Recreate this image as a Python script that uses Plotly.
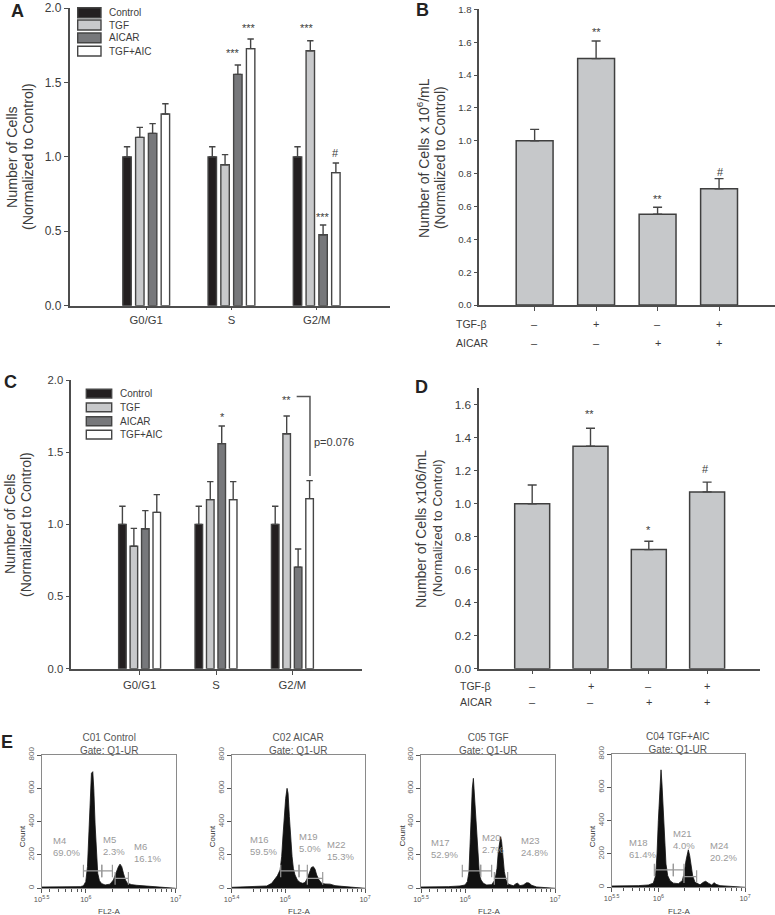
import plotly.graph_objects as go

W, H = 775, 915
FONT = "Liberation Sans, Arial, sans-serif"
DARK = "#3c3c3c"
AXIS = "#4d4d4d"

# ---------- data: panels A and C ----------
phases = ["G0/G1", "S", "G2/M"]
phase_pos = [0, 1, 2]
treatments = ["Control", "TGF", "AICAR", "TGF+AIC"]
treatment_colors = ["#231f20", "#c8c9cb", "#77787b", "#ffffff"]

a_control = [1.0, 1.0, 1.0]
a_tgf = [1.131, 0.947, 1.713]
a_aicar = [1.158, 1.554, 0.477]
a_both = [1.288, 1.727, 0.894]
a_control_err = [0.068, 0.068, 0.068]
a_tgf_err = [0.067, 0.068, 0.067]
a_aicar_err = [0.065, 0.063, 0.065]
a_both_err = [0.069, 0.065, 0.065]

c_control = [1.0, 1.0, 1.0]
c_tgf = [0.848, 1.171, 1.628]
c_aicar = [0.970, 1.559, 0.704]
c_both = [1.083, 1.171, 1.178]
c_control_err = [0.125, 0.125, 0.125]
c_tgf_err = [0.124, 0.125, 0.123]
c_aicar_err = [0.125, 0.122, 0.125]
c_both_err = [0.123, 0.125, 0.125]

# ---------- data: panels B and D ----------
conditions = [0, 1, 2, 3]
tgf_row = ["–", "+", "–", "+"]
aicar_row = ["–", "–", "+", "+"]

b_values = [1.0, 1.50, 0.552, 0.708]
b_err = [0.069, 0.107, 0.043, 0.061]
d_values = [1.0, 1.349, 0.722, 1.072]
d_err = [0.114, 0.109, 0.051, 0.059]

# ---------- data: panel E histograms (log10 FL2-A, count) ----------
e1_x = [5.51, 5.6, 5.79, 5.94, 5.974, 6.0, 6.019, 6.033, 6.048, 6.063, 6.078, 6.089, 6.104, 6.119, 6.133, 6.152,
        6.178, 6.215, 6.27, 6.307, 6.337, 6.363, 6.381, 6.4, 6.419, 6.441, 6.463, 6.511, 6.567, 6.641, 6.715,
        6.789, 6.863, 6.937, 7.0]
e1_y = [8, 8, 8, 10, 15, 40, 130, 300, 560, 690, 700, 600, 380, 200, 90, 45,
        28, 20, 25, 50, 100, 130, 145, 130, 90, 50, 30, 22, 18, 15, 12,
        8, 3, 1, 0]
e2_x = [5.333, 5.437, 5.563, 5.688, 5.771, 5.833, 5.875, 5.904, 5.938, 5.958, 5.975, 5.992, 6.008, 6.025, 6.038,
        6.054, 6.071, 6.088, 6.104, 6.125, 6.154, 6.188, 6.221, 6.25, 6.279, 6.304, 6.329, 6.354, 6.375, 6.396,
        6.425, 6.458, 6.5, 6.563, 6.625, 6.708, 6.813, 6.896, 7.0]
e2_y = [6, 8, 8, 10, 14, 30, 60, 75, 110, 190, 320, 450, 540, 600, 570,
        430, 300, 190, 120, 80, 50, 35, 30, 35, 60, 95, 125, 130, 115, 80,
        50, 30, 26, 25, 16, 12, 8, 4, 0]
e3_x = [5.511, 5.667, 5.815, 5.944, 6.0, 6.026, 6.044, 6.059, 6.07, 6.081, 6.093, 6.104, 6.115, 6.13, 6.144, 6.159,
        6.178, 6.204, 6.241, 6.296, 6.333, 6.356, 6.37, 6.385, 6.396, 6.407, 6.422, 6.437, 6.456, 6.481, 6.537,
        6.567, 6.585, 6.611, 6.648, 6.685, 6.711, 6.741, 6.796, 6.87, 6.926, 7.0]
e3_y = [8, 8, 10, 14, 20, 40, 100, 300, 480, 600, 660, 560, 430, 300, 170, 90,
        50, 30, 20, 22, 50, 120, 220, 290, 310, 280, 190, 100, 50, 25, 15,
        28, 30, 16, 20, 34, 32, 18, 8, 4, 2, 0]
e4_x = [5.462, 5.615, 5.769, 5.885, 5.942, 5.969, 5.985, 6.0, 6.015, 6.031, 6.042, 6.058, 6.073, 6.088, 6.108, 6.135,
        6.173, 6.231, 6.277, 6.3, 6.319, 6.335, 6.346, 6.362, 6.377, 6.396, 6.423, 6.481, 6.519, 6.546, 6.577,
        6.615, 6.646, 6.665, 6.712, 6.808, 6.923, 7.0]
e4_y = [8, 8, 10, 14, 25, 70, 200, 400, 600, 705, 620, 420, 250, 140, 70, 40,
        25, 22, 40, 90, 160, 210, 225, 190, 130, 70, 30, 15, 30, 36, 25,
        14, 28, 18, 10, 6, 2, 0]

e_titles = ["C01 Control", "C02 AICAR", "C05 TGF", "C04 TGF+AIC"]
e_left_labels = ["10<sup>5.5</sup>", "10<sup>5.4</sup>", "10<sup>5.5</sup>", "10<sup>5.5</sup>"]
e_ranges = [[5.51, 7.0], [5.333, 7.0], [5.511, 7.0], [5.462, 7.0]]
# gates: (start, end, level) on the log10 / count scale
e1_gates = [(5.974, 6.178, 104), (6.178, 6.296, 104), (6.326, 6.474, 60)]
e2_gates = [(5.946, 6.175, 104), (6.175, 6.279, 104), (6.279, 6.471, 60)]
e3_gates = [(5.97, 6.174, 104), (6.174, 6.296, 104), (6.326, 6.474, 60)]
e4_gates = [(5.954, 6.173, 104), (6.173, 6.296, 104), (6.296, 6.442, 64)]
e_marker_text = [
    [("M4", "69.0%"), ("M5", "2.3%"), ("M6", "16.1%")],
    [("M16", "59.5%"), ("M19", "5.0%"), ("M22", "15.3%")],
    [("M17", "52.9%"), ("M20", "2.7%"), ("M23", "24.8%")],
    [("M18", "61.4%"), ("M21", "4.0%"), ("M24", "20.2%")],
]
e_marker_pos = [
    [(50.7, 846.7), (100.7, 845.5), (131.7, 852.8)],
    [(248.3, 845.8), (296.7, 842.7), (325, 850)],
    [(429.3, 848), (480, 843.3), (519, 846.7)],
    [(627, 848.8), (671, 839.8), (707.7, 851)],
]

# p-value bracket in C
bracket_x = [2.056, 2.23, 2.23]
bracket_y = [1.885, 1.885, 1.335]


def px(x):
    return x / W


def py(y):
    return 1 - y / H


fig = go.Figure()
annotations = []
shapes = []


def note(text, x, y, size=11, color=DARK, xanchor="center", yanchor="middle", angle=0, bold=False):
    annotations.append(dict(
        text=f"<b>{text}</b>" if bold else text, x=px(x), y=py(y), xref="paper", yref="paper",
        showarrow=False, xanchor=xanchor, yanchor=yanchor, textangle=angle, align="center" if xanchor == "center" else "left",
        font=dict(family=FONT, size=size, color=color)))


def line_axis(domain, **kw):
    base = dict(domain=domain, automargin=False, showgrid=False, zeroline=False, showline=True, linecolor=AXIS, linewidth=1.5,
                ticks="outside", tickcolor=AXIS, tickwidth=1.3, ticklen=4,
                tickfont=dict(family=FONT, color=DARK, size=11))
    base.update(kw)
    return base


def grouped(series, errors, xa, ya, cap):
    for name, vals, errs, col in zip(treatments, series, errors, treatment_colors):
        fig.add_trace(go.Bar(
            x=phase_pos, y=vals, name=name, xaxis=xa, yaxis=ya, showlegend=False,
            marker=dict(color=col, line=dict(color="#454545", width=1.4)),
            error_y=dict(type="data", symmetric=False, array=errs, arrayminus=[0, 0, 0],
                         color="#454545", thickness=1.4, width=cap)))


def single(vals, errs, xa, ya, cap):
    fig.add_trace(go.Bar(
        x=conditions, y=vals, width=0.6, xaxis=xa, yaxis=ya, showlegend=False,
        marker=dict(color="#c6c8ca", line=dict(color="#3f3f3f", width=1.5)),
        error_y=dict(type="data", symmetric=False, array=errs, arrayminus=[0, 0, 0],
                     color="#454545", thickness=1.4, width=cap)))


grouped([a_control, a_tgf, a_aicar, a_both], [a_control_err, a_tgf_err, a_aicar_err, a_both_err], "x", "y", 3.2)
single(b_values, b_err, "x2", "y2", 4.5)
grouped([c_control, c_tgf, c_aicar, c_both], [c_control_err, c_tgf_err, c_aicar_err, c_both_err], "x3", "y3", 3.2)
single(d_values, d_err, "x4", "y4", 4.5)

fig.add_trace(go.Scatter(x=bracket_x, y=bracket_y, xaxis="x3", yaxis="y3", mode="lines", showlegend=False,
                         line=dict(color="#555555", width=1.5)))

layout_axes = dict(
    xaxis=line_axis([px(69.5), px(390)], anchor="y", range=[-0.90, 2.86], ticklen=3,
                    tickvals=phase_pos, ticktext=phases, tickfont=dict(family=FONT, color=DARK, size=11.3)),
    yaxis=line_axis([py(305.7), py(8)], anchor="x", range=[0, 2], dtick=0.5, tickformat=".1f",
                    tickfont=dict(family=FONT, color=DARK, size=12)),
    xaxis2=line_axis([px(479.3), px(775)], anchor="y2", range=[-0.9, 3.91], tickvals=conditions,
                     showticklabels=False),
    yaxis2=line_axis([py(305), py(9.3)], anchor="x2", range=[0, 1.8], dtick=0.2, tickformat=".1f",
                     tickfont=dict(family=FONT, color=DARK, size=9.6)),
    xaxis3=line_axis([px(71.3), px(361.7)], anchor="y3", range=[-0.894, 2.907], ticklen=5,
                     tickvals=phase_pos, ticktext=phases, tickfont=dict(family=FONT, color=DARK, size=11.3)),
    yaxis3=line_axis([py(668.7), py(380)], anchor="x3", range=[0, 2], dtick=0.5, tickformat=".1f",
                     tickfont=dict(family=FONT, color=DARK, size=11.3)),
    xaxis4=line_axis([px(479.3), px(760)], anchor="y4", range=[-0.907, 3.907], tickvals=conditions,
                     showticklabels=False),
    yaxis4=line_axis([py(668.7), py(388.3)], anchor="x4", range=[0, 1.7], tick0=0, dtick=0.2, tickformat=".1f",
                     tickfont=dict(family=FONT, color=DARK, size=11.8)),
)

# legends of A and C
legend_a = [(7.7, 17.7), (20, 30), (33, 42.7), (46.3, 56)]
legend_c = [(389.3, 398), (403, 411.7), (416.7, 425.7), (430.3, 439)]
for rows, x0, x1, tx in [(legend_a, 77.7, 101, 106.7), (legend_c, 86.3, 111.7, 117.7)]:
    for (y0, y1), name, col in zip(rows, treatments, treatment_colors):
        shapes.append(dict(type="rect", xref="paper", yref="paper", x0=px(x0), x1=px(x1), y0=py(y0), y1=py(y1),
                           fillcolor=col, line=dict(color="#454545", width=1.4)))
        note(name, tx, (y0 + y1) / 2, size=10, xanchor="left")

# axis titles
note("Number of Cells", 12, 157, 14.2, angle=-90)
note("(Normalized to Control)", 28, 157, 14.2, angle=-90)
note("Number of Cells x 10<sup>6</sup>/mL", 423, 158, 14, angle=-90)
note("(Normalized to Control)", 440, 158, 13.8, angle=-90)
note("Number of Cells", 10, 524, 14, angle=-90)
note("(Normalized to Control)", 26, 525, 14, angle=-90)
note("Number of Cells x106/mL", 421, 529, 14, angle=-90)
note("(Normalized to Control)", 436.7, 528, 13.3, angle=-90)

# panel letters
for t, x, y in [("A", 17.5, 11), ("B", 422.7, 10), ("C", 10.7, 381.7), ("D", 421, 387), ("E", 6.7, 741.7)]:
    note(t, x, y, 18, "#222222", bold=True)

# significance marks
for t, x, y in [("***", 249, 28), ("***", 233.3, 52.7), ("***", 307.3, 28), ("***", 322.7, 217), ("#", 335.7, 152.7),
                ("**", 596.3, 32), ("**", 657.3, 198.7), ("#", 720, 171.7),
                ("*", 222, 417), ("**", 286.7, 400.3),
                ("**", 589.7, 413.7), ("*", 648.3, 530.3), ("#", 705, 469.3)]:
    note(t, x, y, 11)
note("p=0.076", 312.3, 441.7, 11, xanchor="left")

# +/- rows of B and D
for xa, lab_x, y1, y2, size in [("x2", 454, 324, 343, 10.5), ("x4", 458, 686, 702.3, 10.5)]:
    note("TGF-β", lab_x, y1, size, xanchor="left")
    note("AICAR", lab_x, y2, size, xanchor="left")
    for c, a, b in zip(conditions, tgf_row, aicar_row):
        for txt, yy in [(a, y1), (b, y2)]:
            annotations.append(dict(text=txt, x=c, xref=xa, y=py(yy), yref="paper", showarrow=False,
                                    xanchor="center", yanchor="middle",
                                    font=dict(family=FONT, size=11, color=DARK)))

# ---------- panel E ----------
frames = [(41.7, 175.7, 755, 888.3), (231.7, 365, 755, 888.3), (421, 555, 755, 888.3), (611.7, 745, 754, 887.3)]
title_pos = [(109, 743.7), (298.3, 743.7), (488, 743.7), (677.7, 742.3)]
hists = [(e1_x, e1_y, e1_gates), (e2_x, e2_y, e2_gates), (e3_x, e3_y, e3_gates), (e4_x, e4_y, e4_gates)]
GREY = "#8a8a8a"
minor_vals = [m * 10 ** 5 for m in (4, 5, 6, 7, 8, 9)] + [m * 10 ** 6 for m in (2, 3, 4, 5, 6, 7, 8, 9)]

for i, ((hx, hy, gates), fr, tp) in enumerate(zip(hists, frames, title_pos)):
    n = 5 + i
    xa, ya = f"x{n}", f"y{n}"
    fig.add_trace(go.Scatter(x=[10 ** v for v in hx], y=hy, xaxis=xa, yaxis=ya, mode="lines", showlegend=False,
                             fill="tozeroy", fillcolor="#111111", line=dict(color="#111111", width=0.8)))
    gx, gy = [], []
    for g0, g1, lv in gates:
        gx += [10 ** g0, 10 ** g0, 10 ** g0, 10 ** g1, 10 ** g1, 10 ** g1, None]
        gy += [lv - 38, lv + 38, lv, lv, lv - 38, lv + 38, None]
    fig.add_trace(go.Scatter(x=gx, y=gy, xaxis=xa, yaxis=ya, mode="lines", showlegend=False,
                             line=dict(color="#9a9a9a", width=1.2)))
    x0, x1, y0, y1 = fr
    r = e_ranges[i]
    layout_axes[f"xaxis{n}"] = dict(
        domain=[px(x0), px(x1)], anchor=ya, automargin=False, type="log", range=r, showgrid=False, zeroline=False, mirror=True,
        showline=True, linecolor=GREY, linewidth=1, ticks="outside", tickcolor="#555555", ticklen=4,
        tickmode="array", tickvals=[10 ** r[0], 10 ** 6, 10 ** 7], ticktext=[e_left_labels[i], "10<sup>6</sup>", "10<sup>7</sup>"],
        tickfont=dict(family=FONT, size=7.5, color="#555555"),
        minor=dict(ticks="outside", ticklen=3, tickcolor="#555555", tickmode="array", tickvals=minor_vals))
    layout_axes[f"yaxis{n}"] = dict(
        domain=[py(y1), py(y0)], anchor=xa, automargin=False, range=[0, 800], tickvals=[0, 200, 400, 600, 800], showgrid=False,
        zeroline=False, mirror=True, showline=True, linecolor=GREY, linewidth=1, ticks="outside",
        tickcolor="#555555", ticklen=4, tickangle=-90, tickfont=dict(family=FONT, size=8, color="#666666"))
    note(f"{e_titles[i]}<br>Gate: Q1-UR", tp[0], tp[1] + 0.5, 10, "#555555")
    note("FL2-A", (x0 + x1) / 2 + 0.5, 911, 8, "#444444")
    note("Count", x0 - 19.5, 836, 8, "#333333", angle=-90)
    for (m, pct), (tx, ty) in zip(e_marker_text[i], e_marker_pos[i]):
        note(f"{m}<br>{pct}", tx, ty, 9.5, "#9a9a9a", xanchor="left")

fig.update_layout(
    template="none",
    width=W, height=H, autosize=False, margin=dict(l=0, r=0, t=0, b=0, pad=0),
    paper_bgcolor="white", plot_bgcolor="rgba(0,0,0,0)",
    barmode="group", bargap=0.4, bargroupgap=0.34, showlegend=False,
    font=dict(family=FONT), annotations=annotations, shapes=shapes, **layout_axes)

fig.write_html("out.html", config={"displayModeBar": False},
               post_script="document.body.style.margin='0';")
